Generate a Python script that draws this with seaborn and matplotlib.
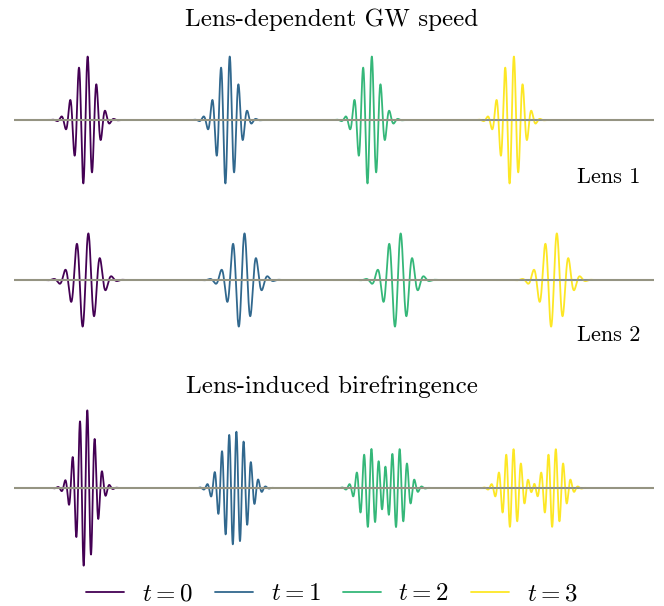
import matplotlib
matplotlib.use("Agg")
import matplotlib.pyplot as plt
import numpy as np
import pandas as pd
import seaborn as sns

# ------------------------------
# Parâmetros dos pacotes de onda
# ------------------------------
times = [0, 1, 2, 3]
x_start = 1.117          # centro inicial do pacote
speed_lens1 = 2.22       # deslocamento por unidade de tempo (lente 1)
speed_lens2 = 2.44       # deslocamento por unidade de tempo (lente 2)
period_lens1, width_lens1, amp_lens1 = 0.138, 0.156, 1.0
period_lens2, width_lens2, amp_lens2 = 0.183, 0.180, 1.0
period_biref, width_biref, amp_biref = 0.116, 0.147, 1.0
legend_labels = [r"$t=0$", r"$t=1$", r"$t=2$", r"$t=3$"]

x = np.linspace(0, 10, 6000)


def packet(center, period, width, amp):
    return amp * np.exp(-(x - center) ** 2 / (2 * width ** 2)) * np.sin(2 * np.pi * (x - center) / period)


def build_df(curves):
    rows = []
    for t, h in zip(times, curves):
        rows.append(pd.DataFrame({"x": x, "h": h, "t": t}))
    return pd.concat(rows, ignore_index=True)


lens1 = [packet(x_start + speed_lens1 * t, period_lens1, width_lens1, amp_lens1) for t in times]
lens2 = [packet(x_start + speed_lens2 * t, period_lens2, width_lens2, amp_lens2) for t in times]
biref = [packet(x_start + speed_lens1 * t, period_biref, width_biref, amp_biref)
         + packet(x_start + speed_lens2 * t, period_biref, width_biref, amp_biref) for t in times]

sns.set_style("white")
plt.rcParams["font.family"] = ["cmr10", "DejaVu Serif"]
plt.rcParams["mathtext.fontset"] = "cm"
plt.rcParams["axes.unicode_minus"] = False
plt.rcParams["text.color"] = "black"

palette = sns.color_palette("viridis", as_cmap=True)
colors = [palette(t / 3) for t in times]

fig = plt.figure(figsize=(6.64, 6.06), dpi=100)
H = 606.0
W = 664.0


def add_panel(top_px, bottom_px, ylim):
    ax = fig.add_axes([14 / W, (H - bottom_px) / H, 640 / W, (bottom_px - top_px) / H])
    ax.set_xlim(0, 10)
    ax.set_ylim(-ylim, ylim)
    ax.axis("off")
    return ax


axes = [add_panel(35.5, 204.5, 1.3), add_panel(217.5, 342.5, 1.3), add_panel(393, 583, 2.4)]

for ax, curves in zip(axes, [lens1, lens2, biref]):
    df = build_df(curves)
    sns.lineplot(data=df, x="x", y="h", hue="t", palette=colors, estimator=None,
                 sort=False, legend=False, ax=ax, lw=1.3)
    ax.axhline(0, color="#8c8c8c", lw=1.5, alpha=0.9, zorder=5)

fig.text(0.5, 1 - 20 / H, "Lens-dependent GW speed", ha="center", va="center", fontsize=18)
fig.text(0.5, 1 - 387 / H, "Lens-induced birefringence", ha="center", va="center", fontsize=18)
fig.text(640 / W, 1 - 177 / H, "Lens 1", ha="right", va="center", fontsize=16)
fig.text(640 / W, 1 - 335 / H, "Lens 2", ha="right", va="center", fontsize=16)

handles = [plt.Line2D([], [], color=c, lw=1.3) for c in colors]
fig.legend(handles, legend_labels, loc="center", bbox_to_anchor=(0.5, 12 / H), ncol=4,
           frameon=False, fontsize=18, handlelength=1.5, handletextpad=0.72, columnspacing=0.9,
           borderpad=0.1)

fig.savefig("out.png", dpi=100)
